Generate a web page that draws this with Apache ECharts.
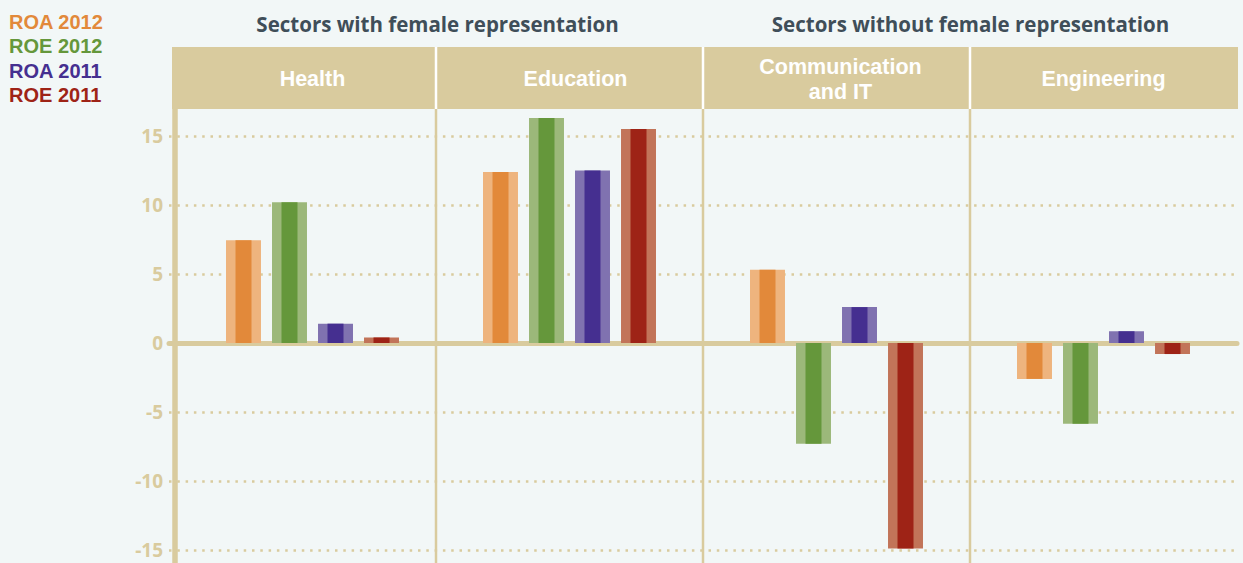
<!DOCTYPE html>
<html>
<head>
<meta charset="utf-8">
<script src="https://cdn.jsdelivr.net/npm/echarts@6/dist/echarts.min.js"></script>
<style>
  html, body { margin: 0; padding: 0; background: #f2f7f7; }
  #chart { width: 1243px; height: 563px; }
</style>
</head>
<body>
<div id="chart"></div>
<script>
// ---------- data ----------
const categories = ['Health', 'Education', 'Communication\nand IT', 'Engineering'];
const groupTitles = ['Sectors with female representation', 'Sectors without female representation'];
const seriesNames = ['ROA 2012', 'ROE 2012', 'ROA 2011', 'ROE 2011'];
const roa2012 = [7.45, 12.4, 5.3, -2.6];
const roe2012 = [10.2, 16.3, -7.3, -5.85];
const roa2011 = [1.4, 12.5, 2.6, 0.85];
const roe2011 = [0.4, 15.5, -14.9, -0.8];
const yTicks = [-15, -10, -5, 0, 5, 10, 15];

// ---------- styles ----------
const darkColors  = ['#e2893a', '#65973b', '#452f90', '#9e2316'];
const lightColors = ['#eeb47e', '#9cb87a', '#8072b0', '#c27459'];
const BEIGE = '#d9cb9e';
const BG = '#f2f7f7';
const TITLE_COLOR = '#3f4e59';
const FONT = '"Open Sans", "Noto Sans", sans-serif';
const COMPACT_FONT = '"Liberation Sans", Roboto, sans-serif';

const seriesValues = [roa2012, roe2012, roa2011, roe2011];

const chart = echarts.init(document.getElementById('chart'), null, { renderer: 'svg' });

const FIRST_GROUP_NUDGE = 10; // bars of first panel sit slightly right of the axis

function renderItem(params, api) {
  const cat = api.value(0);
  const val = api.value(1);
  const band = api.size([1, 0])[0];
  const base = api.coord([cat, 0]);
  const top = api.coord([cat, val]);
  const step = band * 0.1723;
  const w = band * 0.131;
  const inner = w * 0.457;
  const cx = base[0] + (params.seriesIndex - 1.5) * step + (cat === 0 ? FIRST_GROUP_NUDGE : 0);
  const y0 = Math.min(base[1], top[1]);
  const h = Math.abs(base[1] - top[1]);
  const si = params.seriesIndex;
  return {
    type: 'group',
    children: [
      { type: 'rect', shape: { x: cx - w / 2, y: y0, width: w, height: h }, style: { fill: lightColors[si] } },
      { type: 'rect', shape: { x: cx - inner / 2, y: y0, width: inner, height: h }, style: { fill: darkColors[si] } }
    ]
  };
}

const option = {
  backgroundColor: BG,
  animation: false,
  legend: {
    orient: 'vertical',
    left: -1,
    top: 5,
    itemWidth: 0,
    itemHeight: 0,
    itemGap: 0,
    selectedMode: false,
    data: seriesNames.map((n, i) => ({ name: n, icon: 'rect', textStyle: { color: darkColors[i] } })),
    textStyle: { fontFamily: COMPACT_FONT, fontWeight: 'bold', fontSize: 20, lineHeight: 24.3 }
  },
  grid: { left: 169, right: 6, top: 136, bottom: 13, containLabel: false },
  xAxis: {
    type: 'category',
    data: categories,
    axisLine: { show: true, onZero: true, lineStyle: { color: BEIGE, width: 5 } },
    axisTick: { show: false },
    axisLabel: { show: false },
    splitLine: { show: false }
  },
  yAxis: {
    type: 'value',
    min: yTicks[0],
    max: yTicks[yTicks.length - 1],
    interval: 5,
    axisLine: { show: false },
    axisTick: { show: false },
    axisLabel: {
      color: BEIGE, fontFamily: FONT, fontWeight: 'bold', fontSize: 19, margin: 6,
      padding: [4, 0, 0, 0]
    },
    splitLine: { show: true, lineStyle: { color: BEIGE, width: 2.5, type: [2.5, 5.8] } }
  },
  series: seriesNames.map((name, i) => ({
    name: name,
    type: 'custom',
    renderItem: renderItem,
    itemStyle: { color: darkColors[i] },
    encode: { x: 0, y: 1 },
    data: seriesValues[i].map((v, j) => [j, v]),
    z: 5
  }))
};

chart.setOption(option);

// ---------- decorations computed from the category axis ----------
const HEADER_TOP = 47, HEADER_BOTTOM = 109, PLOT_BOTTOM = 563;
const HEADER_LEFT = 172, RIGHT_EDGE = 1238, AXIS_LINE_X = 175;
const centers = categories.map((c, i) => chart.convertToPixel({ xAxisIndex: 0 }, i));
const band = centers[1] - centers[0];
const bounds = centers.map(c => c - band / 2).concat([centers[3] + band / 2]);

const graphics = [];
graphics.push({ type: 'rect', z: 10, shape: { x: HEADER_LEFT, y: HEADER_TOP, width: RIGHT_EDGE - HEADER_LEFT, height: HEADER_BOTTOM - HEADER_TOP }, style: { fill: BEIGE } });
for (let i = 1; i < 4; i++) {
  graphics.push({ type: 'line', z: 11, shape: { x1: bounds[i], y1: HEADER_TOP, x2: bounds[i], y2: HEADER_BOTTOM }, style: { stroke: '#ffffff', lineWidth: 2.5 } });
  graphics.push({ type: 'line', z: 1, shape: { x1: bounds[i], y1: HEADER_BOTTOM, x2: bounds[i], y2: PLOT_BOTTOM }, style: { stroke: BEIGE, lineWidth: 2.5 } });
}
graphics.push({ type: 'line', z: 1, shape: { x1: AXIS_LINE_X, y1: HEADER_BOTTOM, x2: AXIS_LINE_X, y2: PLOT_BOTTOM }, style: { stroke: BEIGE, lineWidth: 5.5 } });
categories.forEach((c, i) => {
  graphics.push({
    type: 'text', z: 12,
    x: centers[i] + (i === 0 ? FIRST_GROUP_NUDGE : 0) + (i === 1 ? 6 : 0) + (i === 2 ? 4 : 0),
    y: (HEADER_TOP + HEADER_BOTTOM) / 2 + 1,
    style: { text: c, fill: '#ffffff', font: 'bold 21.5px ' + COMPACT_FONT, align: 'center', verticalAlign: 'middle', textAlign: 'center', textVerticalAlign: 'middle', lineHeight: 25 }
  });
});
const titleCenters = [(HEADER_LEFT + bounds[2]) / 2, (bounds[2] + RIGHT_EDGE) / 2];
groupTitles.forEach((t, i) => {
  graphics.push({
    type: 'text', z: 12,
    x: titleCenters[i], y: 24,
    style: { text: t, fill: TITLE_COLOR, font: 'bold 20.5px ' + FONT, align: 'center', verticalAlign: 'middle', textAlign: 'center', textVerticalAlign: 'middle' }
  });
});
chart.setOption({ graphic: { elements: graphics } });
</script>
</body>
</html>
